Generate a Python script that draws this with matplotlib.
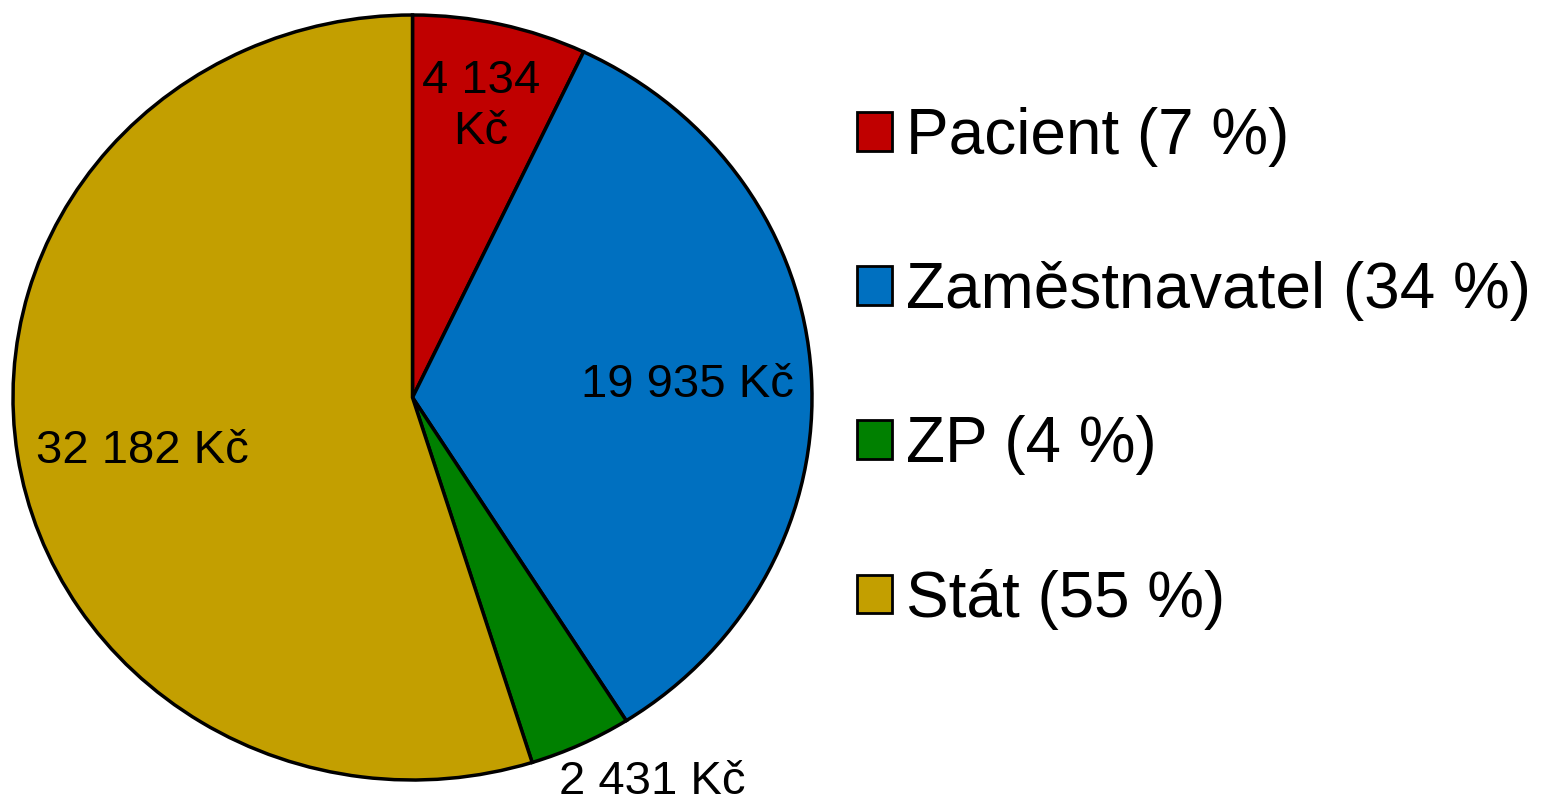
import numpy as np
import matplotlib.pyplot as plt
from matplotlib.patches import Patch

plt.rcParams.update({
    "font.family": ["Liberation Sans", "DejaVu Sans"],
})

# data
categories = ["Pacient", "Zaměstnavatel", "ZP", "Stát"]
values = [4134, 19935, 2431, 32182]
colors = ["#C00000", "#0070C0", "#008000", "#C39F00"]

total = sum(values)
pcts = [round(v / total * 100) for v in values]

fig = plt.figure(figsize=(15.42, 8.01), dpi=100)
ax = fig.add_axes([13 / 1542, 21 / 801, 799 / 1542, 765 / 801])

wedges, _ = ax.pie(values, colors=colors, startangle=90, counterclock=False,
                   radius=1.0, labels=None,
                   wedgeprops=dict(edgecolor="black", linewidth=2.5))
ax.set_aspect("auto")
ax.set_xlim(-1.0, 1.0)
ax.set_ylim(-1.0, 1.0)

"""
Value labels (Excel-like placement)
"""
label_r = [0.78, 0.69, 1.17, 0.69]
label_shift = [0.0, -0.8, 6.0, 3.0]
for w, v, r, sh in zip(wedges, values, label_r, label_shift):
    mid = np.deg2rad((w.theta1 + w.theta2) / 2 + sh)
    txt = f"{v:,}".replace(",", " ") + " Kč"
    if v == values[0]:
        txt = txt.replace(" Kč", "\nKč")
    ax.text(r * np.cos(mid), r * np.sin(mid), txt, ha="center", va="center",
            fontsize=34, linespacing=1.2, clip_on=False)

"""
Legend
"""
handles = [Patch(facecolor=c, edgecolor="black", linewidth=2.0) for c in colors]
leg_labels = [f"{c} ({p} %)" for c, p in zip(categories, pcts)]
fig.legend(handles, leg_labels, loc="center left",
           bbox_to_anchor=(857 / 1542, 0.54), frameon=False,
           fontsize=46, handlelength=0.55, handleheight=0.55,
           handletextpad=0.22, labelspacing=1.47, borderpad=0, borderaxespad=0)

plt.savefig("out.png", dpi=100)
